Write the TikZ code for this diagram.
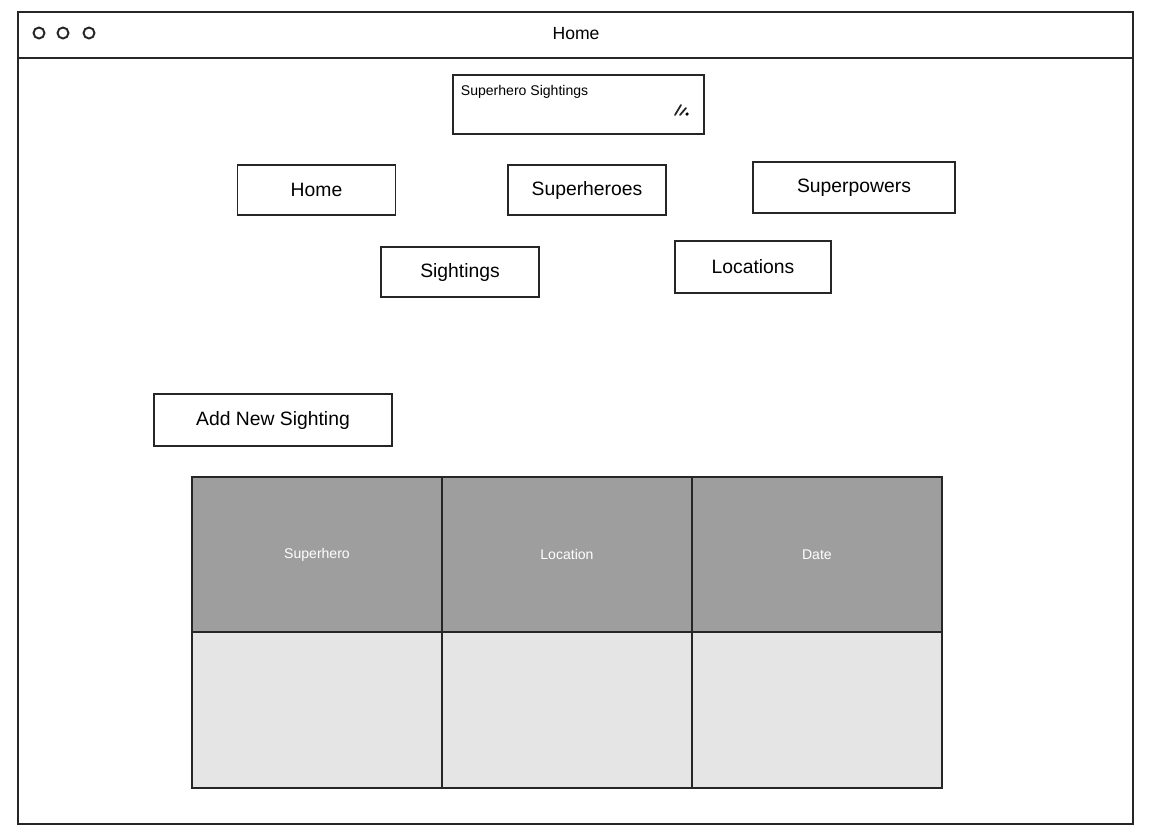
\documentclass[tikz,border=0pt]{standalone}
\usepackage{fontspec}
\setmainfont{Liberation Sans}
\usetikzlibrary{positioning}

\begin{document}
\begin{tikzpicture}[x=0.02cm,y=-0.02cm,line width=1pt,draw=black!85,
  btn/.style={draw,minimum width=3.16cm,minimum height=1cm,font=\fontsize{11}{13}\selectfont},
  head/.style={draw,fill=black!38,text=white,outer sep=0pt,minimum width=5cm,minimum height=3.1cm,font=\fontsize{8}{10}\selectfont},
  cell/.style={draw,fill=black!10,outer sep=0pt,minimum width=5cm,minimum height=3.12cm},
  dot/.style={draw,circle,inner sep=0pt,minimum size=0.22cm,line width=1.1pt}]

\useasboundingbox (0,0) rectangle (1170,836);

% window
\draw (18,12) rectangle (1133,824);
\draw (18,58) -- (1133,58);
\node[dot](c1) at (39,33){};
\node[dot](c2) at (63,33){};
\node[dot](c3) at (89,33){};
\node(title) at (576,34){\fontsize{10}{12}\selectfont Home};

% heading box
\node[draw,minimum width=5.02cm,minimum height=1.18cm](head) at (578.5,104.5){};
\node[anchor=north west,inner sep=0pt,font=\fontsize{8}{10}\selectfont](headtxt) at (460,84){Superhero Sightings};
\draw[line cap=round] (675,115) -- (681,105) (680,115) -- (686,108);
\fill (687,114) circle (1pt);

% menu
\node[btn](home) at (316.5,190){Home};
\node[btn](heroes) at (587,190){Superheroes};
\node[btn,minimum width=4.04cm,minimum height=1.02cm](powers) at (854,187.5){Superpowers};
\node[btn](sight) at (460,272){Sightings};
\node[btn,minimum width=3.12cm,minimum height=1.04cm](loc) at (753,267){Locations};

\node[btn,minimum width=4.76cm,minimum height=1.04cm](add) at (273,420){Add New Sighting};

% table
\node[head](h1) at (317,554.5){Superhero};
\node[head](h2)[right=0cm of h1]{Location};
\node[head](h3)[right=0cm of h2]{Date};
\node[cell](b1)[below=0cm of h1]{};
\node[cell](b2)[below=0cm of h2]{};
\node[cell](b3)[below=0cm of h3]{};

\end{tikzpicture}
\end{document}
